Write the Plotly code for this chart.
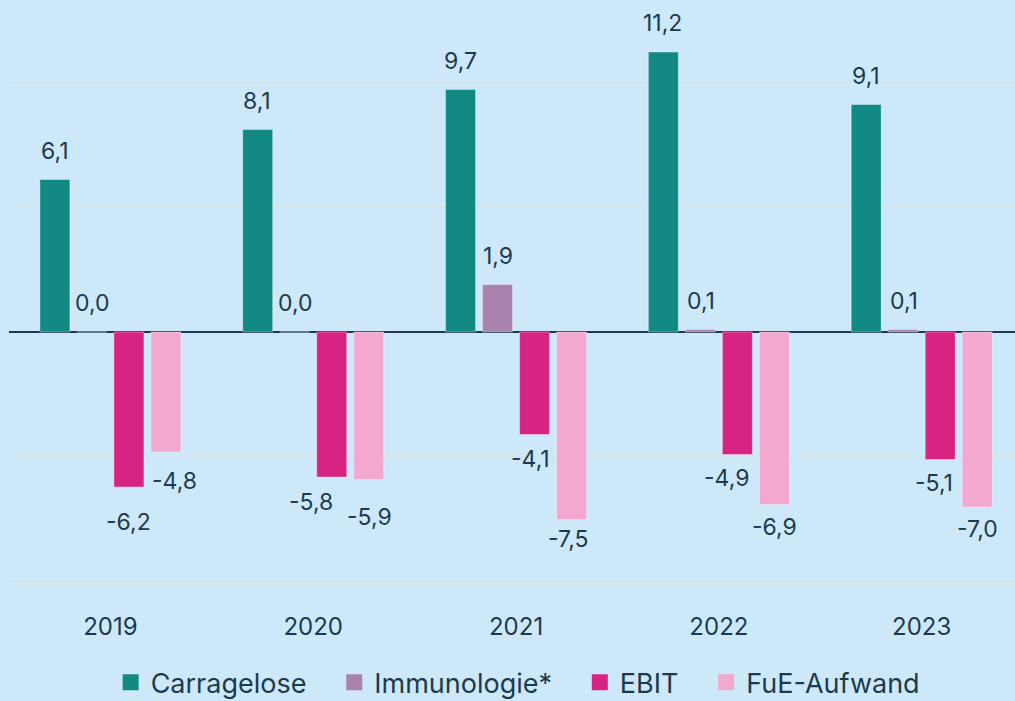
import plotly.graph_objects as go

# ---- data ----
years = ["2019", "2020", "2021", "2022", "2023"]
carragelose = [6.1, 8.1, 9.7, 11.2, 9.1]
immunologie = [0.0, 0.0, 1.9, 0.1, 0.1]
ebit = [-6.2, -5.8, -4.1, -4.9, -5.1]
fue_aufwand = [-4.8, -5.9, -7.5, -6.9, -7.0]
series_names = ["Carragelose", "Immunologie*", "EBIT", "FuE-Aufwand"]

# ---- styles ----
colors = ["#138983", "#a883ad", "#d72483", "#f3a8cf"]
BG = "#cde9f9"
TXT = "#1c3a4f"
FONT = "Inter"
SLOT_PX = 37  # pixel pitch of bars inside a group
POS_DY = 29   # label offset above positive bars (px)
# label nudges (dx, dy) in px for negative bars, per series / year
NEG_NUDGE = {
    "EBIT": [(0, 35), (-20, 25), (-5, 24), (-10, 23), (-7, 23)],
    "FuE-Aufwand": [(8, 29), (0, 37), (-3, 19), (0, 22), (0, 22)],
}
LEGEND_PAD = "&nbsp;" * 3

values = [carragelose, immunologie, ebit, fue_aufwand]

fig = go.Figure()
for name, vals, col in zip(series_names, values, colors):
    fig.add_trace(go.Bar(
        x=years, y=vals, name=name, showlegend=False,
        marker=dict(color=col, line=dict(color="rgba(255,255,255,0.35)", width=1)),
        hoverinfo="skip",
    ))
# legend proxies with large square markers
for k, (name, col) in enumerate(zip(series_names, colors)):
    fig.add_trace(go.Scatter(
        x=[years[0]], y=[None], mode="markers",
        name=name + (LEGEND_PAD if k < len(series_names) - 1 else ""),
        marker=dict(symbol="square", size=19, color=col),
    ))

for i, (name, vals) in enumerate(zip(series_names, values)):
    base_dx = (i - 1.5) * SLOT_PX
    for j, (yr, v) in enumerate(zip(years, vals)):
        label = f"{v:.1f}".replace(".", ",")
        if v >= 0:
            dx, dy = 0, POS_DY
            ys = dy
        else:
            dx, dy = NEG_NUDGE.get(name, [(0, 26)] * len(years))[j]
            ys = -dy
        fig.add_annotation(
            x=j, y=v, xref="x", yref="y", text=label, showarrow=False,
            xshift=int(round(base_dx + dx)), yshift=ys, yanchor="middle", xanchor="center",
            font=dict(family=FONT, size=23, color=TXT),
        )

fig.update_layout(
    width=1015, height=701,
    paper_bgcolor=BG, plot_bgcolor=BG,
    margin=dict(l=9, r=0, t=0, b=101, autoexpand=False),
    barmode="group", bargap=0.27, bargroupgap=0.19,
    font=dict(family=FONT, color=TXT, size=23),
    legend=dict(orientation="h", xref="container", yref="container",
                x=0.510, xanchor="center", y=0.026, yanchor="middle",
                font=dict(family=FONT, size=27, color=TXT), bgcolor="rgba(0,0,0,0)"),
    xaxis=dict(type="category", range=[-0.5, 4.46], showgrid=False, showline=False, zeroline=False,
               ticks="outside", ticklen=5, tickcolor="rgba(0,0,0,0)",
               tickfont=dict(family=FONT, size=24, color=TXT)),
    yaxis=dict(range=[-10.72, 13.28], dtick=5, showticklabels=False,
               showgrid=True, gridcolor="#d3e3eb", gridwidth=2,
               zeroline=True, zerolinecolor=TXT, zerolinewidth=2),
)

fig.write_html("out.html", config={"displayModeBar": False},
               post_script="document.body.style.margin='0';document.body.style.background='%s';" % BG)
